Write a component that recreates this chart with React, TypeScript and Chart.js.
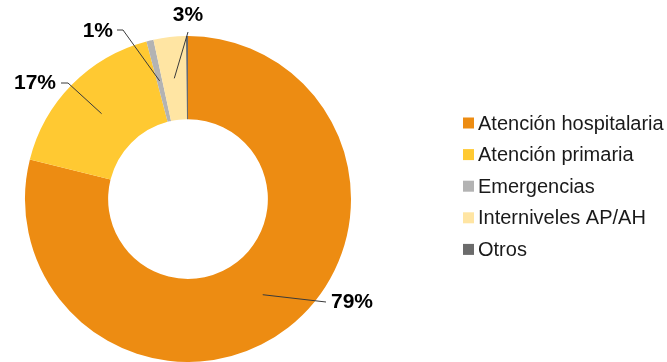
import React, { useEffect, useRef } from "react";
import { Chart, registerables } from "chart.js";

Chart.register(...registerables);

const categories = [
  "Atención hospitalaria",
  "Atención primaria",
  "Emergencias",
  "Interniveles AP/AH",
  "Otros",
];
const values = [78.9, 17.0, 0.7, 3.2, 0.2];
const colors = ["#ED8C12", "#FFC932", "#B3B3B3", "#FFE5A3", "#6B6B6B"];
const showLabel = [true, true, true, true, false];

// label placement (offsets from doughnut centre): elbow, end, text anchor
const labelLayout = [
  { pts: [[138, 103]], text: [143, 103], align: "left" },
  { pts: [[-120, -116], [-127, -116]], text: [-132, -116], align: "right" },
  { pts: [[-65, -169], [-71, -169]], text: [-75, -168], align: "right" },
  { pts: [[0, -167]], text: [0, -184], align: "center" },
  { pts: [], text: [0, 0], align: "center" },
];

const labelPlugin = {
  id: "leaderLabels",
  afterDatasetsDraw(chart: any) {
    const ctx = chart.ctx;
    const meta = chart.getDatasetMeta(0);
    const data = chart.data.datasets[0].data as number[];
    const total = data.reduce((a, b) => a + b, 0);
    ctx.save();
    meta.data.forEach((arc: any, i: number) => {
      if (!showLabel[i]) return;
      const p = arc.getProps(["x", "y", "startAngle", "endAngle", "innerRadius", "outerRadius"], true);
      const mid = (p.startAngle + p.endAngle) / 2;
      const r = (p.innerRadius + p.outerRadius) / 2;
      const sx = p.x + Math.cos(mid) * r;
      const sy = p.y + Math.sin(mid) * r;
      const lay = labelLayout[i];
      ctx.beginPath();
      ctx.moveTo(sx, sy);
      lay.pts.forEach((q) => ctx.lineTo(p.x + q[0], p.y + q[1]));
      ctx.strokeStyle = "#3a3a3a";
      ctx.lineWidth = 1;
      ctx.stroke();
      ctx.fillStyle = "#000";
      ctx.font = "bold 21px 'Liberation Sans', Arial, sans-serif";
      ctx.textAlign = lay.align;
      ctx.textBaseline = "middle";
      ctx.fillText(Math.round((data[i] / total) * 100) + "%", p.x + lay.text[0], p.y + lay.text[1]);
    });
    ctx.restore();
  },
};

const legendPlugin = {
  id: "customLegend",
  afterDraw(chart: any) {
    const ctx = chart.ctx;
    const labels = chart.data.labels as string[];
    const bg = chart.data.datasets[0].backgroundColor as string[];
    ctx.save();
    ctx.font = "20px 'Liberation Sans', Arial, sans-serif";
    ctx.textAlign = "left";
    ctx.textBaseline = "alphabetic";
    labels.forEach((l, i) => {
      const base = 129.5 + i * 31.6;
      ctx.fillStyle = bg[i];
      ctx.fillRect(463, base - 12, 11, 11);
      ctx.fillStyle = "#1a1a1a";
      ctx.fillText(l, 478, base);
    });
    ctx.restore();
  },
};

export default function App() {
  const ref = useRef<HTMLCanvasElement>(null);
  useEffect(() => {
    const chart = new Chart(ref.current!, {
      type: "doughnut",
      data: {
        labels: categories,
        datasets: [
          {
            data: values,
            backgroundColor: colors,
            borderWidth: 0,
          },
        ],
      },
      options: {
        animation: false,
        responsive: false,
        cutout: "49%",
        layout: { padding: { left: 25, right: 316, top: 36, bottom: 0 } },
        plugins: {
          legend: { display: false },
          tooltip: { enabled: false },
        },
      },
      plugins: [labelPlugin, legendPlugin],
    });
    return () => chart.destroy();
  }, []);
  return (
    <div style={{ position: "fixed", left: 0, top: 0, width: 667, height: 362, background: "#fff" }}>
      <canvas ref={ref} width={667} height={362} style={{ display: "block" }} />
    </div>
  );
}
